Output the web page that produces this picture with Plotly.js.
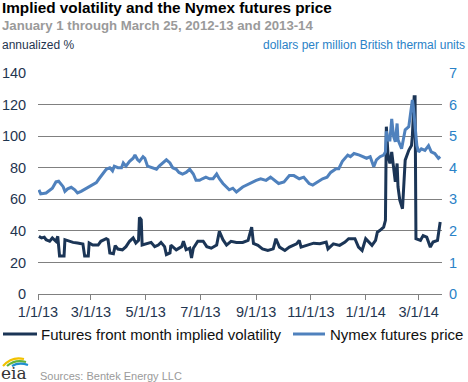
<!DOCTYPE html>
<html>
<head>
<meta charset="utf-8">
<script src="https://cdn.plot.ly/plotly-3.0.1.min.js"></script>
<style>html,body{margin:0;padding:0;background:#fff;}#wrap{position:relative;width:468px;height:382px;}#chart{width:468px;height:382px;}#ov{position:absolute;left:38px;top:73px;width:404px;height:221px;pointer-events:none;}</style>
</head>
<body>
<div id="wrap"><div id="chart"></div><div id="ov"></div></div>
<script>
// Nymex futures price, dollars per million Btu (right axis)
var priceDates = ['2013-01-02','2013-01-04','2013-01-10','2013-01-14','2013-01-17','2013-01-21','2013-01-24','2013-01-29','2013-01-31','2013-02-03',
'2013-02-07','2013-02-11','2013-02-14','2013-02-18','2013-02-24','2013-03-01','2013-03-07','2013-03-10','2013-03-14','2013-03-18',
'2013-03-22','2013-03-25','2013-03-27','2013-03-31','2013-04-04','2013-04-06','2013-04-09','2013-04-13','2013-04-17','2013-04-19',
'2013-04-22','2013-04-24','2013-04-28','2013-04-30','2013-05-03','2013-05-07','2013-05-13','2013-05-16','2013-05-20','2013-05-24',
'2013-05-28','2013-05-31','2013-06-04','2013-06-07','2013-06-11','2013-06-15','2013-06-19','2013-06-23','2013-06-26','2013-06-30',
'2013-07-03','2013-07-07','2013-07-11','2013-07-15','2013-07-19','2013-07-22','2013-07-26','2013-07-30','2013-08-02','2013-08-06',
'2013-08-10','2013-08-17','2013-08-24','2013-09-01','2013-09-06','2013-09-12','2013-09-17','2013-09-23','2013-09-26','2013-10-02',
'2013-10-08','2013-10-13','2013-10-19','2013-10-24','2013-10-30','2013-11-03','2013-11-08','2013-11-14','2013-11-19','2013-11-23',
'2013-11-29','2013-12-02','2013-12-06','2013-12-12','2013-12-15','2013-12-19','2013-12-25','2013-12-29','2014-01-02','2014-01-06',
'2014-01-10','2014-01-13','2014-01-17','2014-01-21','2014-01-23','2014-01-24','2014-01-26','2014-01-28','2014-01-30','2014-02-01',
'2014-02-03','2014-02-05','2014-02-06','2014-02-10','2014-02-14','2014-02-18','2014-02-20','2014-02-22','2014-02-23','2014-02-24',
'2014-02-27','2014-03-01','2014-03-04','2014-03-08','2014-03-12','2014-03-15','2014-03-19','2014-03-23','2014-03-25'];
var priceVals = [3.30,3.17,3.2,3.3,3.35,3.55,3.57,3.4,3.25,3.33,
3.38,3.3,3.2,3.25,3.35,3.45,3.53,3.65,3.8,3.95,
4.0,3.9,4.05,4.0,4.0,4.15,4.05,4.2,4.3,4.4,
4.25,4.2,4.35,4.3,4.05,4.0,3.95,4.05,4.15,4.25,
4.15,4.0,3.95,3.85,3.8,3.85,3.95,3.8,3.6,3.6,
3.65,3.7,3.65,3.65,3.8,3.65,3.5,3.4,3.3,3.35,
3.23,3.39,3.5,3.6,3.65,3.6,3.7,3.55,3.5,3.55,
3.75,3.75,3.65,3.7,3.5,3.45,3.55,3.65,3.7,3.85,
3.97,3.97,4.2,4.4,4.35,4.45,4.4,4.35,4.3,4.35,
4.03,4.25,4.35,4.4,4.5,5.15,4.88,4.88,5.55,5.0,
4.82,5.4,4.88,4.6,5.2,5.3,5.72,6.15,5.95,5.65,
4.7,4.5,4.6,4.55,4.7,4.5,4.45,4.3,4.35];

// Futures front month implied volatility, annualized % (left axis)
var volDates = ['2013-01-02','2013-01-05','2013-01-08','2013-01-10','2013-01-14','2013-01-17','2013-01-21','2013-01-23','2013-01-25','2013-01-30',
'2013-01-31','2013-02-05','2013-02-09','2013-02-14','2013-02-20','2013-02-22','2013-02-26','2013-02-27','2013-03-03','2013-03-09',
'2013-03-12','2013-03-18','2013-03-20','2013-03-22','2013-03-26','2013-03-28','2013-03-31','2013-04-05','2013-04-09','2013-04-13',
'2013-04-17','2013-04-20','2013-04-23','2013-04-24','2013-04-26','2013-04-27','2013-05-02','2013-05-07','2013-05-11','2013-05-15',
'2013-05-18','2013-05-22','2013-05-24','2013-05-28','2013-05-29','2013-06-04','2013-06-10','2013-06-12','2013-06-15','2013-06-19',
'2013-06-21','2013-06-23','2013-06-28','2013-07-04','2013-07-08','2013-07-13','2013-07-19','2013-07-22','2013-07-26','2013-07-30',
'2013-08-04','2013-08-10','2013-08-17','2013-08-23','2013-08-27','2013-08-29','2013-09-03','2013-09-08','2013-09-14','2013-09-20',
'2013-09-23','2013-09-27','2013-10-03','2013-10-08','2013-10-16','2013-10-19','2013-10-21','2013-10-27','2013-11-04','2013-11-11',
'2013-11-18','2013-11-20','2013-11-26','2013-12-03','2013-12-09','2013-12-13','2013-12-20','2013-12-24','2013-12-28','2014-01-01',
'2014-01-04','2014-01-08','2014-01-12','2014-01-14','2014-01-17','2014-01-21','2014-01-23','2014-01-24','2014-01-26','2014-01-28',
'2014-01-30','2014-02-01','2014-02-03','2014-02-05','2014-02-06','2014-02-08','2014-02-11','2014-02-14','2014-02-18','2014-02-21',
'2014-02-22','2014-02-24','2014-02-25','2014-02-26','2014-03-03','2014-03-06','2014-03-10','2014-03-14','2014-03-17','2014-03-22',
'2014-03-25'];
var volVals = [36.5,35.5,36,34.4,33.4,35.5,33.4,36.5,24,24,
34.4,33.4,32.7,32.3,31.7,24,24,32.3,31,31,
33.4,35,34.4,26,25.5,30.6,28.5,28,30,33.4,
35.5,32.3,34,48.6,47,31,32,32.7,30,31,
32.7,30,25,26,31,28,30,33.4,28,29,
22.8,29,33.4,33.4,30,29,31,39.7,34.4,31,
33.4,32.7,32.7,34,42.4,32,30.8,28.6,27.6,28.6,
35,29.7,27.6,29.7,31.8,34,29.7,30.8,32.2,31.8,
32.9,28.6,31.8,30.8,32.9,35,35,29.7,27.6,35,
32.9,30.8,34,39.2,40.3,42.4,46.7,106,87,82.7,
90,80.6,71,82.7,67.9,59.4,54,84.8,91,94,
100,125,125,35,34,37,36,29.7,32.9,34,
45.6];

var seriesNames = ['Futures front month implied volatility', 'Nymex futures price'];
var tickVals = ['2013-01-01','2013-03-01','2013-05-01','2013-07-01','2013-09-01','2013-11-01','2014-01-01','2014-03-01'];
var tickText = ['1/1/13','3/1/13','5/1/13','7/1/13','9/1/13','11/1/13','1/1/14','3/1/14'];
var leftTicks = [0, 20, 40, 60, 80, 100, 120, 140];
var rightTicks = [0, 1, 2, 3, 4, 5, 6, 7];

var FONT = 'Liberation Sans, Arial, sans-serif';
var DARK = '#1b3556';
var LIGHT = '#4f81bd';
var BLUE = '#2a82c7';
var AXTXT = '#1f3550';
var GRID = '#808080';

// plot box in pixels: left 38, right 442, top 73, bottom 294
var L = 38, R = 442, T = 73, B = 294;
function px(x){ return (x - L) / (R - L); }
function py(y){ return (B - y) / (B - T); }
function arc(x0, y0, cx, cy, x1, y1){
  return 'M' + px(x0) + ',' + py(y0) + ' Q' + px(cx) + ',' + py(cy) + ' ' + px(x1) + ',' + py(y1);
}

var traces = [
  {x: volDates, y: volVals, type: 'scatter', mode: 'lines', name: seriesNames[0],
   line: {color: DARK, width: 3}, yaxis: 'y'},
  {x: priceDates, y: priceVals, type: 'scatter', mode: 'lines', name: seriesNames[1],
   line: {color: LIGHT, width: 3}, yaxis: 'y2'}
];

var legY = py(334);
var layout = {
  width: 468, height: 382,
  margin: {l: L, r: 468 - R, t: T, b: 382 - B, pad: 0},
  font: {family: FONT, size: 14, color: AXTXT},
  showlegend: false,
  xaxis: {type: 'date', range: ['2013-01-01', '2014-03-27'], tickmode: 'array', tickvals: tickVals, ticktext: tickText,
          showgrid: false, zeroline: false, showline: true, linecolor: GRID, linewidth: 1,
          ticks: 'outside', ticklen: 5, tickcolor: GRID, tickfont: {family: FONT, size: 14.5, color: AXTXT}},
  yaxis: {range: [0, 140], tickmode: 'array', tickvals: leftTicks, showgrid: true, gridcolor: GRID, gridwidth: 1,
          zeroline: false, showline: false, ticks: 'outside', ticklen: 8, tickcolor: 'rgba(0,0,0,0)',
          tickfont: {family: FONT, size: 14.5, color: AXTXT}},
  yaxis2: {range: [0, 7], tickmode: 'array', tickvals: rightTicks, overlaying: 'y', side: 'right', showgrid: false,
           zeroline: false, showline: false, ticks: 'outside', ticklen: 3, tickcolor: 'rgba(0,0,0,0)',
           tickfont: {family: FONT, size: 14.5, color: BLUE}},
  shapes: [
    {type: 'line', xref: 'paper', yref: 'paper', x0: px(3), x1: px(37), y0: legY, y1: legY, line: {color: DARK, width: 3}},
    {type: 'line', xref: 'paper', yref: 'paper', x0: px(293), x1: px(325), y0: legY, y1: legY, line: {color: LIGHT, width: 3}},
    {type: 'path', xref: 'paper', yref: 'paper', path: arc(3, 366, 12, 356, 24, 359), line: {color: '#f2c200', width: 2.2}},
    {type: 'path', xref: 'paper', yref: 'paper', path: arc(7, 366, 15, 359, 26, 362), line: {color: '#62b33b', width: 2.2}},
    {type: 'path', xref: 'paper', yref: 'paper', path: arc(12, 366, 19, 362, 28, 365), line: {color: '#1f8fd0', width: 2.2}}
  ],
  annotations: [
    {text: seriesNames[0], xref: 'paper', yref: 'paper', x: px(39), y: legY, xanchor: 'left', yanchor: 'middle',
     showarrow: false, font: {family: FONT, size: 15, color: '#111'}},
    {text: seriesNames[1], xref: 'paper', yref: 'paper', x: px(328), y: legY, xanchor: 'left', yanchor: 'middle',
     showarrow: false, font: {family: FONT, size: 15, color: '#111'}},
    {text: '<b>Implied volatility and the Nymex futures price</b>', xref: 'paper', yref: 'paper', x: px(0), y: py(8),
     xanchor: 'left', yanchor: 'middle', showarrow: false, font: {family: FONT, size: 15.3, color: '#000'}},
    {text: '<b>January 1 through March 25, 2012-13 and 2013-14</b>', xref: 'paper', yref: 'paper', x: px(0), y: py(25),
     xanchor: 'left', yanchor: 'middle', showarrow: false, font: {family: FONT, size: 13.2, color: '#9a9a9a'}},
    {text: 'annualized %', xref: 'paper', yref: 'paper', x: px(0), y: py(45),
     xanchor: 'left', yanchor: 'middle', showarrow: false, font: {family: FONT, size: 12, color: '#1f3550'}},
    {text: 'dollars per million British thermal units', xref: 'paper', yref: 'paper', x: px(467), y: py(45),
     xanchor: 'right', yanchor: 'middle', showarrow: false, font: {family: FONT, size: 12, color: BLUE}},
    {text: 'eia', xref: 'paper', yref: 'paper', x: px(-1), y: py(373),
     xanchor: 'left', yanchor: 'middle', showarrow: false, font: {family: 'DejaVu Serif, serif', size: 17, color: '#333'}},
    {text: 'Sources: Bentek Energy LLC', xref: 'paper', yref: 'paper', x: px(38), y: py(376),
     xanchor: 'left', yanchor: 'middle', showarrow: false, font: {family: FONT, size: 11, color: '#9a9a9a'}}
  ]
};

Plotly.newPlot('chart', traces, layout, {staticPlot: true, displayModeBar: false});
</script>
</body>
</html>
